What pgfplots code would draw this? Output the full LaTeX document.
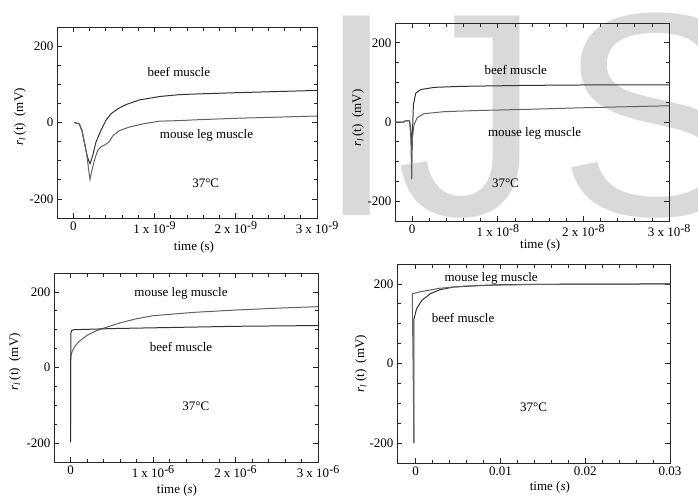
\documentclass[border=0pt]{standalone}
\usepackage{fontspec}
\setmainfont{Liberation Serif}
\newfontfamily\wmfont{Liberation Sans}
\usepackage{pgfplots}
\pgfplotsset{compat=1.18}
\newcommand\sups[1]{\raisebox{0.65ex}{\fontsize{12}{12}\selectfont#1}}
\pgfplotsset{
  panel/.style={
    scale only axis,
    ymin=-250, ymax=250,
    ytick={-200,0,200},
    yticklabels={-200,0,200},
    minor y tick num=3,
    minor x tick num=4,
    scaled x ticks=false,
    tick align=inside,
    major tick length=5pt,
    minor tick length=3.5pt,
    axis line style={black!85, line width=0.8pt},
    every tick/.style={black!85, line width=0.7pt},
    ylabel={\textit{r}\textsubscript{\textit{l}}\,(t)\ \ (mV)},
    ylabel style={anchor=center, rotate=0},
    xlabel style={anchor=center},
    clip=true,
  },
  beef/.style={black!80, line width=1pt},
  mouse/.style={black!62, line width=1pt},
}
\begin{document}
\begin{tikzpicture}[font=\fontsize{13}{15}\selectfont]
\useasboundingbox (0pt,0pt) rectangle (698pt,-495pt);
\node[anchor=base west, inner sep=0pt, text=black!15, font=\wmfont\fontsize{290}{290}\selectfont] at (316pt,-215pt) {IJ};
\node[anchor=base west, inner sep=0pt, text=black!15, font=\wmfont\fontsize{290}{290}\selectfont] at (558pt,-215pt) {S};

% Panel 1
\begin{axis}[panel, at={(57pt,-218pt)}, anchor=south west, width=260pt, height=191pt,
  xmin=-0.2, xmax=3, xtick={0,1,2,3},
  xticklabels={0, 1 x 10\sups{-9}, 2 x 10\sups{-9}, 3 x 10\sups{-9}},
  xlabel={time (s)},
  xlabel style={at={(axis description cs:0.527,-0.152)}},
  ylabel style={at={(axis description cs:-0.142,0.53)}}]
\addplot[beef] coordinates {(0.012,0) (0.074,-3.5) (0.107,-21) (0.136,-51) (0.165,-82) (0.19,-100) (0.206,-108) (0.24,-86) (0.28,-51) (0.34,-21) (0.40,5) (0.465,23) (0.55,36) (0.65,47) (0.815,59) (1.06,68) (1.31,73) (1.56,75) (2.0,78) (2.5,81) (3.0,84)};
\addplot[mouse] coordinates {(0.012,0) (0.074,-3.5) (0.107,-21) (0.136,-51) (0.165,-82) (0.19,-125) (0.206,-149) (0.23,-125) (0.26,-99) (0.30,-73) (0.34,-64) (0.40,-57) (0.44,-51) (0.49,-34) (0.57,-21) (0.69,-12) (0.86,-3.5) (1.06,3.5) (1.31,5) (1.5,7) (2.0,11) (2.5,14) (3.0,17)};
\node at (axis cs:1.30,133) {beef muscle};
\node at (axis cs:1.64,-34) {mouse leg muscle};
\node at (axis cs:1.63,-160) {37°C};
\end{axis}

% Panel 2
\begin{axis}[panel, at={(395pt,-221pt)}, anchor=south west, width=274pt, height=198pt,
  xmin=-0.2, xmax=3, xtick={0,1,2,3},
  xticklabels={0, 1 x 10\sups{-8}, 2 x 10\sups{-8}, 3 x 10\sups{-8}},
  xlabel={time (s)},
  xlabel style={at={(axis description cs:0.53,-0.121)}},
  ylabel style={at={(axis description cs:-0.135,0.52)}}]
\addplot[beef] coordinates {(-0.2,0) (-0.1,0) (-0.08,3) (-0.03,3) (-0.015,-20) (-0.005,-70) (0.005,-20) (0.015,44) (0.043,73) (0.1,82) (0.26,87.5) (0.57,90) (1.35,92.5) (2.0,93.5) (3.0,94)};
\addplot[mouse] coordinates {(-0.2,0) (-0.1,0) (-0.08,3) (-0.03,3) (-0.015,-40) (-0.005,-145) (0.004,-39) (0.023,-6) (0.06,11) (0.14,21) (0.37,26) (0.76,29) (1.35,32) (2.0,36) (3.0,41)};
\node at (axis cs:1.21,132) {beef muscle};
\node at (axis cs:1.43,-30) {mouse leg muscle};
\node at (axis cs:1.09,-155) {37°C};
\end{axis}

% Panel 3
\begin{axis}[panel, at={(54pt,-462pt)}, anchor=south west, width=264pt, height=189pt,
  xmin=-0.2, xmax=3, xtick={0,1,2,3},
  xticklabels={0, 1 x 10\sups{-6}, 2 x 10\sups{-6}, 3 x 10\sups{-6}},
  xlabel={time (\textit{s})},
  xlabel style={at={(axis description cs:0.466,-0.148)}},
  ylabel style={at={(axis description cs:-0.148,0.53)}}]
\addplot[mouse] coordinates {(0,-150) (0.003,30) (0.02,42) (0.05,55) (0.1,68) (0.2,85) (0.3,96) (0.4,104) (0.6,118) (0.8,129) (1.0,137) (1.5,146) (2.0,152) (2.5,157) (3.0,161)};
\addplot[beef] coordinates {(0,-198) (0.004,90) (0.015,98) (0.04,100) (0.2,101) (0.5,103) (1.0,105) (2.0,109) (3.0,111)};
\node at (axis cs:1.34,195) {mouse leg muscle};
\node at (axis cs:1.34,53) {beef muscle};
\node at (axis cs:1.52,-103) {37°C};
\end{axis}

% Panel 4
\begin{axis}[panel, at={(397pt,-463pt)}, anchor=south west, width=273pt, height=199pt,
  xmin=-0.0022, xmax=0.03, xtick={0,0.01,0.02,0.03},
  xticklabels={0,0.01,0.02,0.03},
  xlabel={time (\textit{s})},
  xlabel style={at={(axis description cs:0.56,-0.12)}},
  ylabel style={at={(axis description cs:-0.132,0.50)}}]
\addplot[beef] coordinates {(-0.0002,-200) (-0.0002,111) (0.0001,137) (0.0007,158) (0.0017,175) (0.0028,185) (0.0044,192) (0.0075,196) (0.01,198) (0.015,199) (0.03,200)};
\addplot[mouse] coordinates {(-0.0002,-200) (-0.0004,175) (0.0005,180) (0.0028,189) (0.0055,194) (0.0094,197) (0.015,199) (0.03,200)};
\node at (axis cs:0.0089,215) {mouse leg muscle};
\node at (axis cs:0.0056,114) {beef muscle};
\node at (axis cs:0.0139,-111) {37°C};
\end{axis}
\end{tikzpicture}
\end{document}
